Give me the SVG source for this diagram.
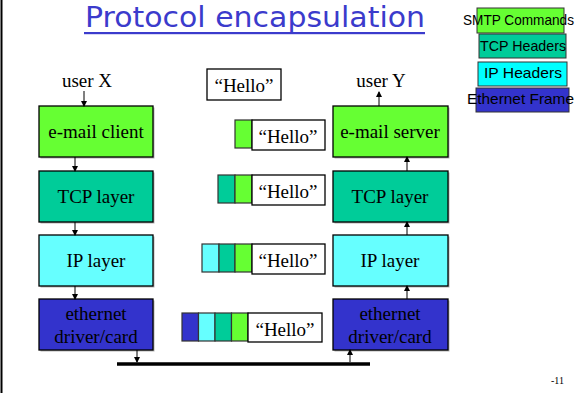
<svg xmlns="http://www.w3.org/2000/svg" width="580" height="393" viewBox="0 0 580 393">
<defs>
<marker id="ah" markerWidth="6" markerHeight="6" refX="5" refY="3" orient="auto" markerUnits="userSpaceOnUse">
<path d="M0,0 L6,3 L0,6 Z" fill="#000"/>
</marker>
<style>
.t{font-family:"Liberation Serif","Times New Roman",serif;fill:#000;}
.lbl{font-size:19px;text-anchor:middle;}
.leg{font-family:"Liberation Sans",Arial,sans-serif;font-size:14.5px;fill:#000;}
.box{stroke:#000;stroke-width:1.3;}
.sh{fill:#b4b4b4;}
.g{fill:#66ff33;}
.tc{fill:#00cc99;}
.c{fill:#66ffff;}
.b{fill:#3333cc;}
.blk{stroke:#333;stroke-width:1.2;}
.hb{fill:#fff;stroke:#000;stroke-width:1.3;}
.ln{stroke:#000;stroke-width:1;fill:none;marker-end:url(#ah);}
</style>
</defs>
<rect x="0" y="0" width="580" height="393" fill="#fff"/>
<line x1="1.5" y1="0" x2="1.5" y2="393" stroke="#000" stroke-width="2"/>

<g id="title">
<text x="85" y="27" font-family="DejaVu Sans, Comic Sans MS, sans-serif" font-size="29" fill="#3b3bcc" textLength="340" lengthAdjust="spacingAndGlyphs">Protocol encapsulation</text>
<rect x="84" y="32" width="341" height="2.2" fill="#3b3bcc"/>
</g>

<g id="legend">
<rect x="477" y="8" width="87" height="25" fill="#66ff33" stroke="#333" stroke-width="1"/>
<text class="leg" x="463" y="25" textLength="111" lengthAdjust="spacingAndGlyphs">SMTP Commands</text>
<rect x="479" y="34" width="87" height="24" fill="#00cc99" stroke="#333" stroke-width="1"/>
<text class="leg" x="480" y="51" textLength="86" lengthAdjust="spacingAndGlyphs">TCP Headers</text>
<rect x="478" y="62" width="89" height="24" fill="#00ffff" stroke="#333" stroke-width="1"/>
<text class="leg" x="484" y="78" textLength="78" lengthAdjust="spacingAndGlyphs">IP Headers</text>
<rect x="476" y="88" width="93" height="24" fill="#3333cc" stroke="#333" stroke-width="1"/>
<text class="leg" x="467" y="104" textLength="107" lengthAdjust="spacingAndGlyphs">Ethernet Frame</text>
</g>

<g id="userX"><text class="t lbl" x="87" y="87">user X</text></g>
<g id="userY"><text class="t lbl" x="381" y="87">user Y</text></g>

<g id="hello0">
<rect class="hb" x="207" y="69" width="74" height="31"/>
<text class="t lbl" x="244" y="92">“Hello”</text>
</g>

<g id="emailClient">
<rect class="sh" x="40.5" y="107.5" width="114" height="51"/>
<rect class="box g" x="39" y="106" width="114" height="51"/>
<text class="t lbl" x="96" y="138">e-mail client</text>
</g>
<g id="tcpLeft">
<rect class="sh" x="40.5" y="172.5" width="114" height="51"/>
<rect class="box tc" x="39" y="171" width="114" height="51"/>
<text class="t lbl" x="96" y="203">TCP layer</text>
</g>
<g id="ipLeft">
<rect class="sh" x="40.5" y="236.5" width="114" height="51"/>
<rect class="box c" x="39" y="235" width="114" height="51"/>
<text class="t lbl" x="96" y="267">IP layer</text>
</g>
<g id="ethLeft">
<rect class="sh" x="40.5" y="300.5" width="114" height="51"/>
<rect class="box b" x="39" y="299" width="114" height="51"/>
<text class="t lbl" x="96" y="320">ethernet</text>
<text class="t lbl" x="96" y="343">driver/card</text>
</g>

<g id="emailServer">
<rect class="sh" x="334.5" y="107.5" width="115" height="51"/>
<rect class="box g" x="333" y="106" width="115" height="51"/>
<text class="t lbl" x="390" y="138">e-mail server</text>
</g>
<g id="tcpRight">
<rect class="sh" x="334.5" y="172.5" width="115" height="51"/>
<rect class="box tc" x="333" y="171" width="115" height="51"/>
<text class="t lbl" x="390" y="203">TCP layer</text>
</g>
<g id="ipRight">
<rect class="sh" x="334.5" y="236.5" width="115" height="51"/>
<rect class="box c" x="333" y="235" width="115" height="51"/>
<text class="t lbl" x="390" y="267">IP layer</text>
</g>
<g id="ethRight">
<rect class="sh" x="334.5" y="300.5" width="115" height="51"/>
<rect class="box b" x="333" y="299" width="115" height="51"/>
<text class="t lbl" x="390" y="320">ethernet</text>
<text class="t lbl" x="390" y="343">driver/card</text>
</g>

<g id="packet1">
<rect class="blk g" x="235" y="120" width="17" height="28"/>
<rect class="hb" x="252" y="120" width="73" height="30"/>
<text class="t lbl" x="288" y="143">“Hello”</text>
</g>
<g id="packet2">
<rect class="blk tc" x="218" y="175" width="17" height="28"/>
<rect class="blk g" x="235" y="175" width="17" height="28"/>
<rect class="hb" x="252" y="175" width="73" height="30"/>
<text class="t lbl" x="288" y="198">“Hello”</text>
</g>
<g id="packet3">
<rect class="blk c" x="202" y="244" width="17" height="28"/>
<rect class="blk tc" x="219" y="244" width="16" height="28"/>
<rect class="blk g" x="235" y="244" width="17" height="28"/>
<rect class="hb" x="252" y="244" width="73" height="30"/>
<text class="t lbl" x="288" y="267">“Hello”</text>
</g>
<g id="packet4">
<rect class="blk b" x="182" y="313" width="16.5" height="28"/>
<rect class="blk c" x="198.5" y="313" width="16.5" height="28"/>
<rect class="blk tc" x="215" y="313" width="16.5" height="28"/>
<rect class="blk g" x="231.5" y="313" width="16.5" height="28"/>
<rect class="hb" x="248" y="313" width="74" height="29"/>
<text class="t lbl" x="285" y="336">“Hello”</text>
</g>

<g id="bus"><line x1="117" y1="364" x2="370" y2="364" stroke="#000" stroke-width="3.5"/></g>

<g id="connectors">
<line class="ln" x1="84" y1="91" x2="84" y2="106"/>
<line class="ln" x1="75" y1="157" x2="75" y2="171"/>
<line class="ln" x1="75" y1="222" x2="75" y2="235"/>
<line class="ln" x1="75" y1="286" x2="75" y2="299"/>
<line class="ln" x1="137" y1="350" x2="137" y2="362"/>
<line class="ln" x1="350" y1="362" x2="350" y2="350"/>
<line class="ln" x1="407" y1="299" x2="407" y2="286"/>
<line class="ln" x1="407" y1="235" x2="407" y2="222"/>
<line class="ln" x1="407" y1="171" x2="407" y2="157"/>
<line class="ln" x1="379" y1="106" x2="379" y2="92"/>
</g>

<g id="pagenum"><text class="t" x="551" y="384" font-size="10">-11</text></g>
</svg>
